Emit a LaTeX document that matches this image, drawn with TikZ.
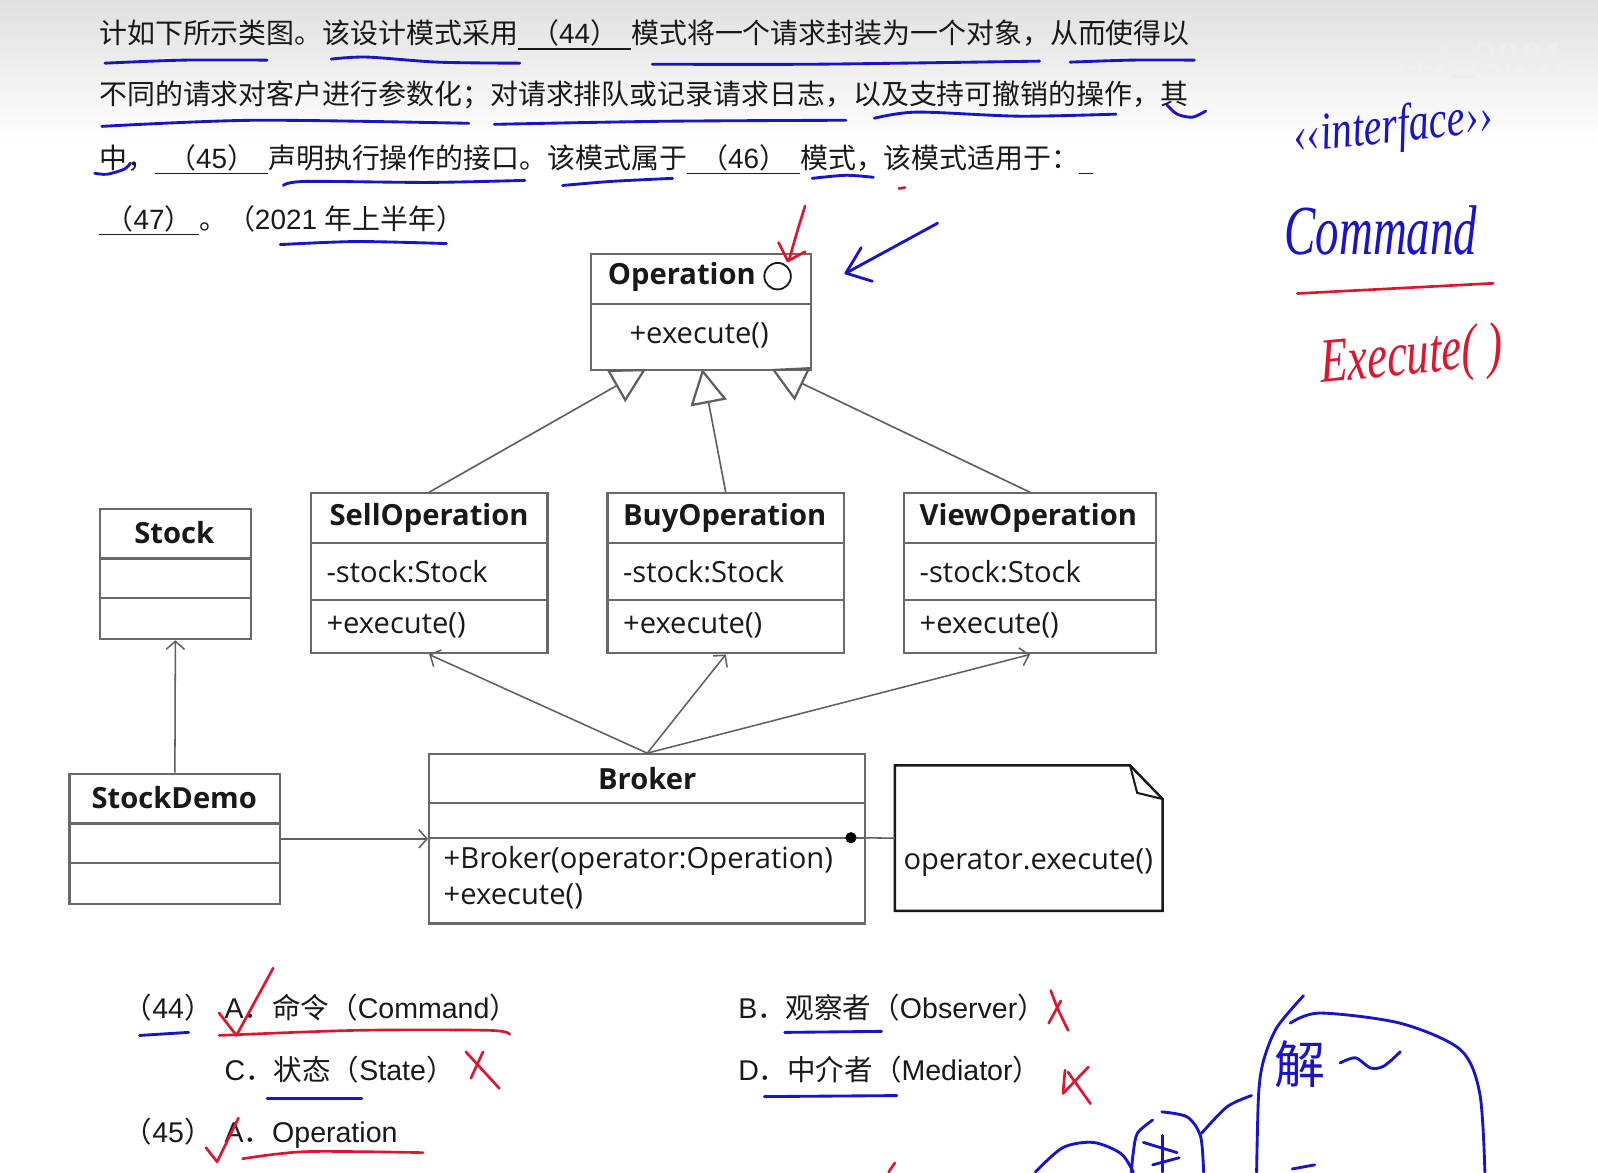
\documentclass[tikz,border=0pt]{standalone}
\usepackage{fontspec}
\setmainfont{Open Sans}
\newfontfamily\cjk{Noto Sans CJK SC}
\newfontfamily\lat{Liberation Sans}
\newfontfamily\uml{Open Sans}
\newfontfamily\hand{Liberation Serif}
\usetikzlibrary{arrows.meta,calc}
\definecolor{boxc}{RGB}{105,105,105}
\definecolor{linec}{RGB}{95,95,95}
\definecolor{txt}{RGB}{25,25,25}
\definecolor{penblue}{RGB}{25,20,200}
\definecolor{penred}{RGB}{225,20,45}
\newcommand\blankfield[2]{\rlap{\rule[-3pt]{#1}{0.8pt}}\makebox[#1]{#2}}
\tikzset{
 cls/.style={draw=boxc, line width=1.1pt, inner sep=0pt, anchor=north west},
 boxline/.style={draw=boxc, line width=1.1pt},
 ttl/.style={font=\uml\bfseries\fontsize{14.3}{17}\selectfont, text=txt, inner sep=0pt},
 mem/.style={font=\uml\fontsize{14.3}{17}\selectfont, text=txt, inner sep=0pt, anchor=west},
 memc/.style={font=\uml\fontsize{14.3}{17}\selectfont, text=txt, inner sep=0pt},
 gen/.style={draw=linec, line width=0.8pt, -{Triangle[open,length=17pt,width=18pt,line width=1.1pt]}},
 dep/.style={draw=linec, line width=0.75pt, -{Straight Barb[length=4pt,width=9pt]}},
 q/.style={font=\cjk\fontsize{13.7}{16}\selectfont, text=txt, inner sep=0pt, anchor=base west},
 opt/.style={font=\cjk\fontsize{14}{16}\selectfont, text=txt, inner sep=0pt, anchor=base west},
 bluepen/.style={draw=penblue, line width=1.4pt, line cap=round, line join=round},
 redpen/.style={draw=penred, line width=1.3pt, line cap=round, line join=round},
}
\begin{document}
\begin{tikzpicture}[x=0.5pt,y=-0.5pt]
\useasboundingbox (0,0) rectangle (1568,1150);
\fill[white] (0,0) rectangle (1568,1150);
\shade[top color=black!12, bottom color=white] (0,0) rectangle (1568,140);
\node[font=\hand\bfseries\fontsize{22}{24}\selectfont, text=black!7] (wm) at (1455,60) {zst\_2001};

% ---------- question text ----------
\node[q] (l1) at (97,43) {计如下所示类图。该设计模式采用\blankfield{55.5pt}{（{\lat 44}）}模式将一个请求封装为一个对象，从而使得以};
\node[q] (l2) at (97,103) {不同的请求对客户进行参数化；对请求排队或记录请求日志，以及支持可撤销的操作，其};
\node[q] (l3) at (97,165) {中，\blankfield{55.5pt}{（{\lat 45}）}声明执行操作的接口。该模式属于\blankfield{55.5pt}{（{\lat 46}）}模式，该模式适用于：\blankfield{6.5pt}{}};
\node[q] (l4) at (97,225) {\blankfield{49pt}{（{\lat 47}）}。（{\lat 2021 }年上半年）};

% ---------- UML ----------
\node[cls, minimum width=108pt, minimum height=57pt] (op) at (579,248) {};
\draw[boxline] ($(op.north west)+(0,50)$) -- ($(op.north east)+(0,50)$);
\node[ttl] (opt) at (669,272) {Operation};
\node[circle, draw=txt, line width=0.9pt, minimum size=13pt, inner sep=0pt] (opc) at (763,271) {};
\node[memc] (opm) at (686,329) {+execute()};
\coordinate (opL) at (634,362);
\coordinate (opM) at (689,362);
\coordinate (opR) at (757,362);

\node[cls, minimum width=116pt, minimum height=78.5pt] (sell) at (304,483) {};
\draw[boxline] ($(sell.north west)+(0,50)$) -- ($(sell.north east)+(0,50)$);
\draw[boxline] ($(sell.north west)+(0,106)$) -- ($(sell.north east)+(0,106)$);
\node[ttl] (sellt) at (421,508) {SellOperation};
\node[mem] (sella) at (320,561) {-stock:Stock};
\node[mem] (sellm) at (320,614) {+execute()};

\node[cls, minimum width=116pt, minimum height=78.5pt] (buy) at (595,483) {};
\draw[boxline] ($(buy.north west)+(0,50)$) -- ($(buy.north east)+(0,50)$);
\draw[boxline] ($(buy.north west)+(0,106)$) -- ($(buy.north east)+(0,106)$);
\node[ttl] (buyt) at (711,508) {BuyOperation};
\node[mem] (buya) at (611,561) {-stock:Stock};
\node[mem] (buym) at (611,614) {+execute()};

\node[cls, minimum width=123.5pt, minimum height=78.5pt] (view) at (886,483) {};
\draw[boxline] ($(view.north west)+(0,50)$) -- ($(view.north east)+(0,50)$);
\draw[boxline] ($(view.north west)+(0,106)$) -- ($(view.north east)+(0,106)$);
\node[ttl] (viewt) at (1009,508) {ViewOperation};
\node[mem] (viewa) at (902,561) {-stock:Stock};
\node[mem] (viewm) at (902,614) {+execute()};

\node[cls, minimum width=74pt, minimum height=64pt] (stock) at (97,498) {};
\draw[boxline] ($(stock.north west)+(0,50)$) -- ($(stock.north east)+(0,50)$);
\draw[boxline] ($(stock.north west)+(0,89)$) -- ($(stock.north east)+(0,89)$);
\node[ttl] (stockt) at (171,523) {Stock};

\node[cls, minimum width=103.5pt, minimum height=64pt] (demo) at (67,758) {};
\draw[boxline] ($(demo.north west)+(0,50)$) -- ($(demo.north east)+(0,50)$);
\draw[boxline] ($(demo.north west)+(0,89)$) -- ($(demo.north east)+(0,89)$);
\node[ttl] (demot) at (171,783) {StockDemo};

\node[cls, minimum width=214pt, minimum height=83pt] (broker) at (420,739) {};
\draw[boxline] ($(broker.north west)+(0,49)$) -- ($(broker.north east)+(0,49)$);
\draw[boxline] ($(broker.north west)+(0,83)$) -- ($(broker.north east)+(0,83)$);
\node[ttl] (brokert) at (635,764) {Broker};
\node[mem] (brokera) at (435,845) {+Broker(operator:Operation)};
\node[mem] (brokerm) at (435,880) {+execute()};

\node[inner sep=0pt, minimum width=131pt, minimum height=71pt, anchor=north west] (note) at (878,751) {};
\draw[draw=txt, line width=1.2pt, line join=miter]
  (note.north west) -- ($(note.north east)+(-32,0)$) -- ($(note.north east)+(0,33)$)
  -- (note.south east) -- (note.south west) -- cycle;
\draw[draw=txt, line width=1pt] ($(note.north east)+(-32,0)$) -- ($(note.north east)+(-25,27)$) -- ($(note.north east)+(0,33)$);
\node[memc] (notet) at (1009,846) {operator.execute()};

% connectors
\draw[gen] (sell.north) -- (opL);
\draw[gen] (buy.north) -- (opM);
\draw[gen] (view.north) -- (opR);
\draw[dep] (broker.north) -- (sell.south);
\draw[dep] (broker.north) -- (buy.south);
\draw[dep] (broker.north) -- (view.south);
\draw[dep] (demo.north) -- (stock.south);
\draw[dep] (demo.east) -- (broker.west);
\node[circle, fill=black, minimum size=5.5pt, inner sep=0pt] (dot) at (835,822) {};
\draw[draw=linec, line width=0.75pt] (dot) -- (note.west);

% ---------- options ----------
\node[opt] (o44) at (121,999) {（{\lat 44}）};
\node[opt] (oA) at (220,999) {{\lat A}．命令（{\lat Command}）};
\node[opt] (oB) at (724,999) {{\lat B}．观察者（{\lat Observer}）};
\node[opt] (oC) at (220,1060) {{\lat C}．状态（{\lat State}）};
\node[opt] (oD) at (724,1060) {{\lat D}．中介者（{\lat Mediator}）};
\node[opt] (o45) at (121,1121) {（{\lat 45}）};
\node[opt] (oA2) at (220,1121) {{\lat A}．{\lat Operation}};

% ---------- blue annotations ----------
\draw[bluepen] plot[smooth] coordinates {(103,62) (180,59) (262,59)};
\draw[bluepen] plot[smooth] coordinates {(325,58) (360,56) (430,61) (510,62)};
\draw[bluepen] plot[smooth] coordinates {(640,63) (800,63) (1020,60)};
\draw[bluepen] plot[smooth] coordinates {(1050,61) (1110,59) (1172,59)};
\draw[bluepen] plot[smooth] coordinates {(100,124) (250,118) (460,121)};
\draw[bluepen] plot[smooth] coordinates {(485,122) (650,119) (830,118)};
\draw[bluepen] plot[smooth] coordinates {(858,116) (900,110) (1000,114) (1095,112)};
\draw[bluepen] plot[smooth] coordinates {(1145,103) (1155,112) (1170,115) (1183,109)};
\draw[bluepen] plot[smooth] coordinates {(93,170) (105,171) (122,166) (128,160)};
\draw[bluepen] plot[smooth] coordinates {(278,182) (300,178) (420,179) (515,177)};
\draw[bluepen] plot[smooth] coordinates {(552,182) (600,178) (660,175)};
\draw[bluepen] plot[smooth] coordinates {(797,175) (830,172) (857,174)};
\draw[bluepen] plot[smooth] coordinates {(275,240) (350,237) (438,239)};
\draw[bluepen] (920,219) -- (830,268);
\draw[bluepen] (845,243) -- (830,268) -- (856,276);
\draw[bluepen] (137,1016) -- (185,1013);
\draw[bluepen] (262,1078) -- (355,1078);
\draw[bluepen] (770,1013) -- (865,1012);
\draw[bluepen] (750,1076) -- (880,1075);
\node[font=\hand\itshape\fontsize{20}{22}\selectfont, text=penblue, rotate=6, yscale=1.3, inner sep=0pt] (hint) at (1367,127) {{\guilsinglleft\guilsinglleft}interface{\guilsinglright\guilsinglright}};
\node[font=\hand\itshape\fontsize{23}{25}\selectfont, text=penblue, yscale=1.5, inner sep=0pt] (hcmd) at (1355,226) {Command};
\node[font=\cjk\fontsize{25}{27}\selectfont, text=penblue, inner sep=0pt] (hjie) at (1276,1044) {解};
\draw[bluepen] plot[smooth] coordinates {(1315,1043) (1330,1038) (1345,1048) (1358,1046) (1374,1032)};
\draw[bluepen] plot[smooth] coordinates {(1279,977) (1253,1008) (1240,1040) (1235,1073) (1233,1150)};
\draw[bluepen] plot[smooth] coordinates {(1266,1004) (1295,994) (1374,1004) (1433,1030) (1452,1073) (1457,1150)};
\draw[bluepen] plot[smooth] coordinates {(1179,1112) (1204,1086) (1228,1075)};
\draw[bluepen] plot[smooth] coordinates {(1131,1099) (1116,1112) (1112,1131) (1110,1150)};
\draw[bluepen] plot[smooth] coordinates {(1140,1091) (1165,1096) (1178,1115) (1181,1150)};
\draw[bluepen] plot[smooth] coordinates {(1016,1150) (1043,1126) (1073,1121) (1100,1132) (1112,1150)};
\draw[bluepen] (1122,1121) -- (1155,1131);
\draw[bluepen] (1141,1114) -- (1141,1150);
\draw[bluepen] (1131,1143) -- (1157,1136);
\draw[bluepen] (1268,1147) -- (1290,1143);

% ---------- red annotations ----------
\draw[redpen] plot[smooth] coordinates {(790,202) (782,228) (774,256)};
\draw[redpen] (764,238) -- (773,256) -- (790,247);
\draw[redpen] (882,185) -- (888,184);
\draw[redpen] (1273,288) -- (1465,278);
\node[font=\hand\itshape\fontsize{22}{24}\selectfont, text=penred, yscale=1.4, rotate=4, inner sep=0pt] (hexe) at (1385,352) {Execute( )};
\draw[redpen] (215,994) -- (232,1016) -- (268,950);
\draw[redpen] plot[smooth] coordinates {(215,1016) (350,1011) (480,1011) (500,1015)};
\draw[redpen] plot[smooth] coordinates {(1031,972) (1038,990) (1048,1011)};
\draw[redpen] (1041,982) -- (1029,1004);
\draw[redpen] (457,1032) -- (490,1068);
\draw[redpen] (474,1032) -- (462,1058);
\draw[redpen] (1045,1050) -- (1043,1073) -- (1068,1047);
\draw[redpen] (1048,1052) -- (1070,1083);
\draw[redpen] (202,1126) -- (213,1140) -- (234,1097);
\draw[redpen] plot[smooth] coordinates {(238,1137) (300,1130) (415,1131)};
\draw[redpen] (872,1150) -- (878,1141);
\end{tikzpicture}
\end{document}
